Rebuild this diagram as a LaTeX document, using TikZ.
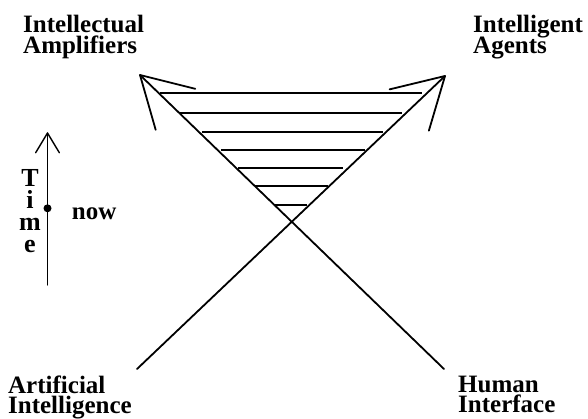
\documentclass[tikz,border=0pt]{standalone}
\usepackage{fontspec}
\setmainfont{Liberation Serif}
\usetikzlibrary{calc}
\setlength{\lineskiplimit}{-100pt}
\tikzset{
  lab/.style={inner sep=0pt, align=left, anchor=north west,
    font=\bfseries\fontsize{25}{21.6}\selectfont},
  labb/.style={lab, font=\bfseries\fontsize{25}{20}\selectfont},
  tlet/.style={inner sep=0pt, align=center, anchor=north,
    font=\bfseries\fontsize{26}{22}\selectfont},
  nowlab/.style={inner sep=0pt, anchor=base west, font=\bfseries\fontsize{25}{30}\selectfont},
  diag/.style={line width=1.8pt, line cap=round, line join=round},
  hatch/.style={line width=1.8pt},
  timeline/.style={line width=1.4pt, line cap=round, line join=round}
}
\begin{document}
\begin{tikzpicture}[x=1pt,y=-1pt]
\useasboundingbox (0,0) rectangle (588,419);
% labels
\node[lab] (amp) at (23,14.8) {Intellectual\\Amplifiers};
\node[lab] (ag) at (473,14.8) {Intelligent\\Agents};
\node[labb] (ai) at (8,376) {Artificial\\Intelligence};
\node[labb] (hi) at (458,376.2) {Human\\Interface};
% end points of the two diagonals
\coordinate (AMP) at (140,75);
\coordinate (IA) at (445,76);
\coordinate (AI) at (137,369);
\coordinate (HI) at (444,369);
\draw[diag] (HI) -- (AMP);
\draw[diag] (AI) -- (IA);
\draw[diag] ($(AMP)!57pt!30:(HI)$) -- (AMP) -- ($(AMP)!57pt!-30:(HI)$);
\draw[diag] ($(IA)!57pt!30:(AI)$) -- (IA) -- ($(IA)!57pt!-30:(AI)$);
% hatching
\draw[hatch] (160,93.3) -- (422,93.3);
\draw[hatch] (180,112.7) -- (402,112.7);
\draw[hatch] (202,131.7) -- (383,131.7);
\draw[hatch] (221,150) -- (365,150);
\draw[hatch] (238,168.3) -- (343,168.3);
\draw[hatch] (255,185.7) -- (328,185.7);
\draw[hatch] (275,205) -- (307,205);
% time axis
\coordinate (tt) at (47.5,133);
\coordinate (tb) at (47.5,285);
\coordinate (tnow) at (47.5,208.3);
\draw[timeline] (tb) -- (tt);
\draw[timeline] ($(tt)!23pt!31:(tb)$) -- (tt) -- ($(tt)!23pt!-31:(tb)$);
\fill (tnow) circle (4);
\node[tlet] (time) at (30,169.5) {T\\i\\m\\e};
\node[nowlab] (now) at (71.7,220) {now};
\end{tikzpicture}
\end{document}
